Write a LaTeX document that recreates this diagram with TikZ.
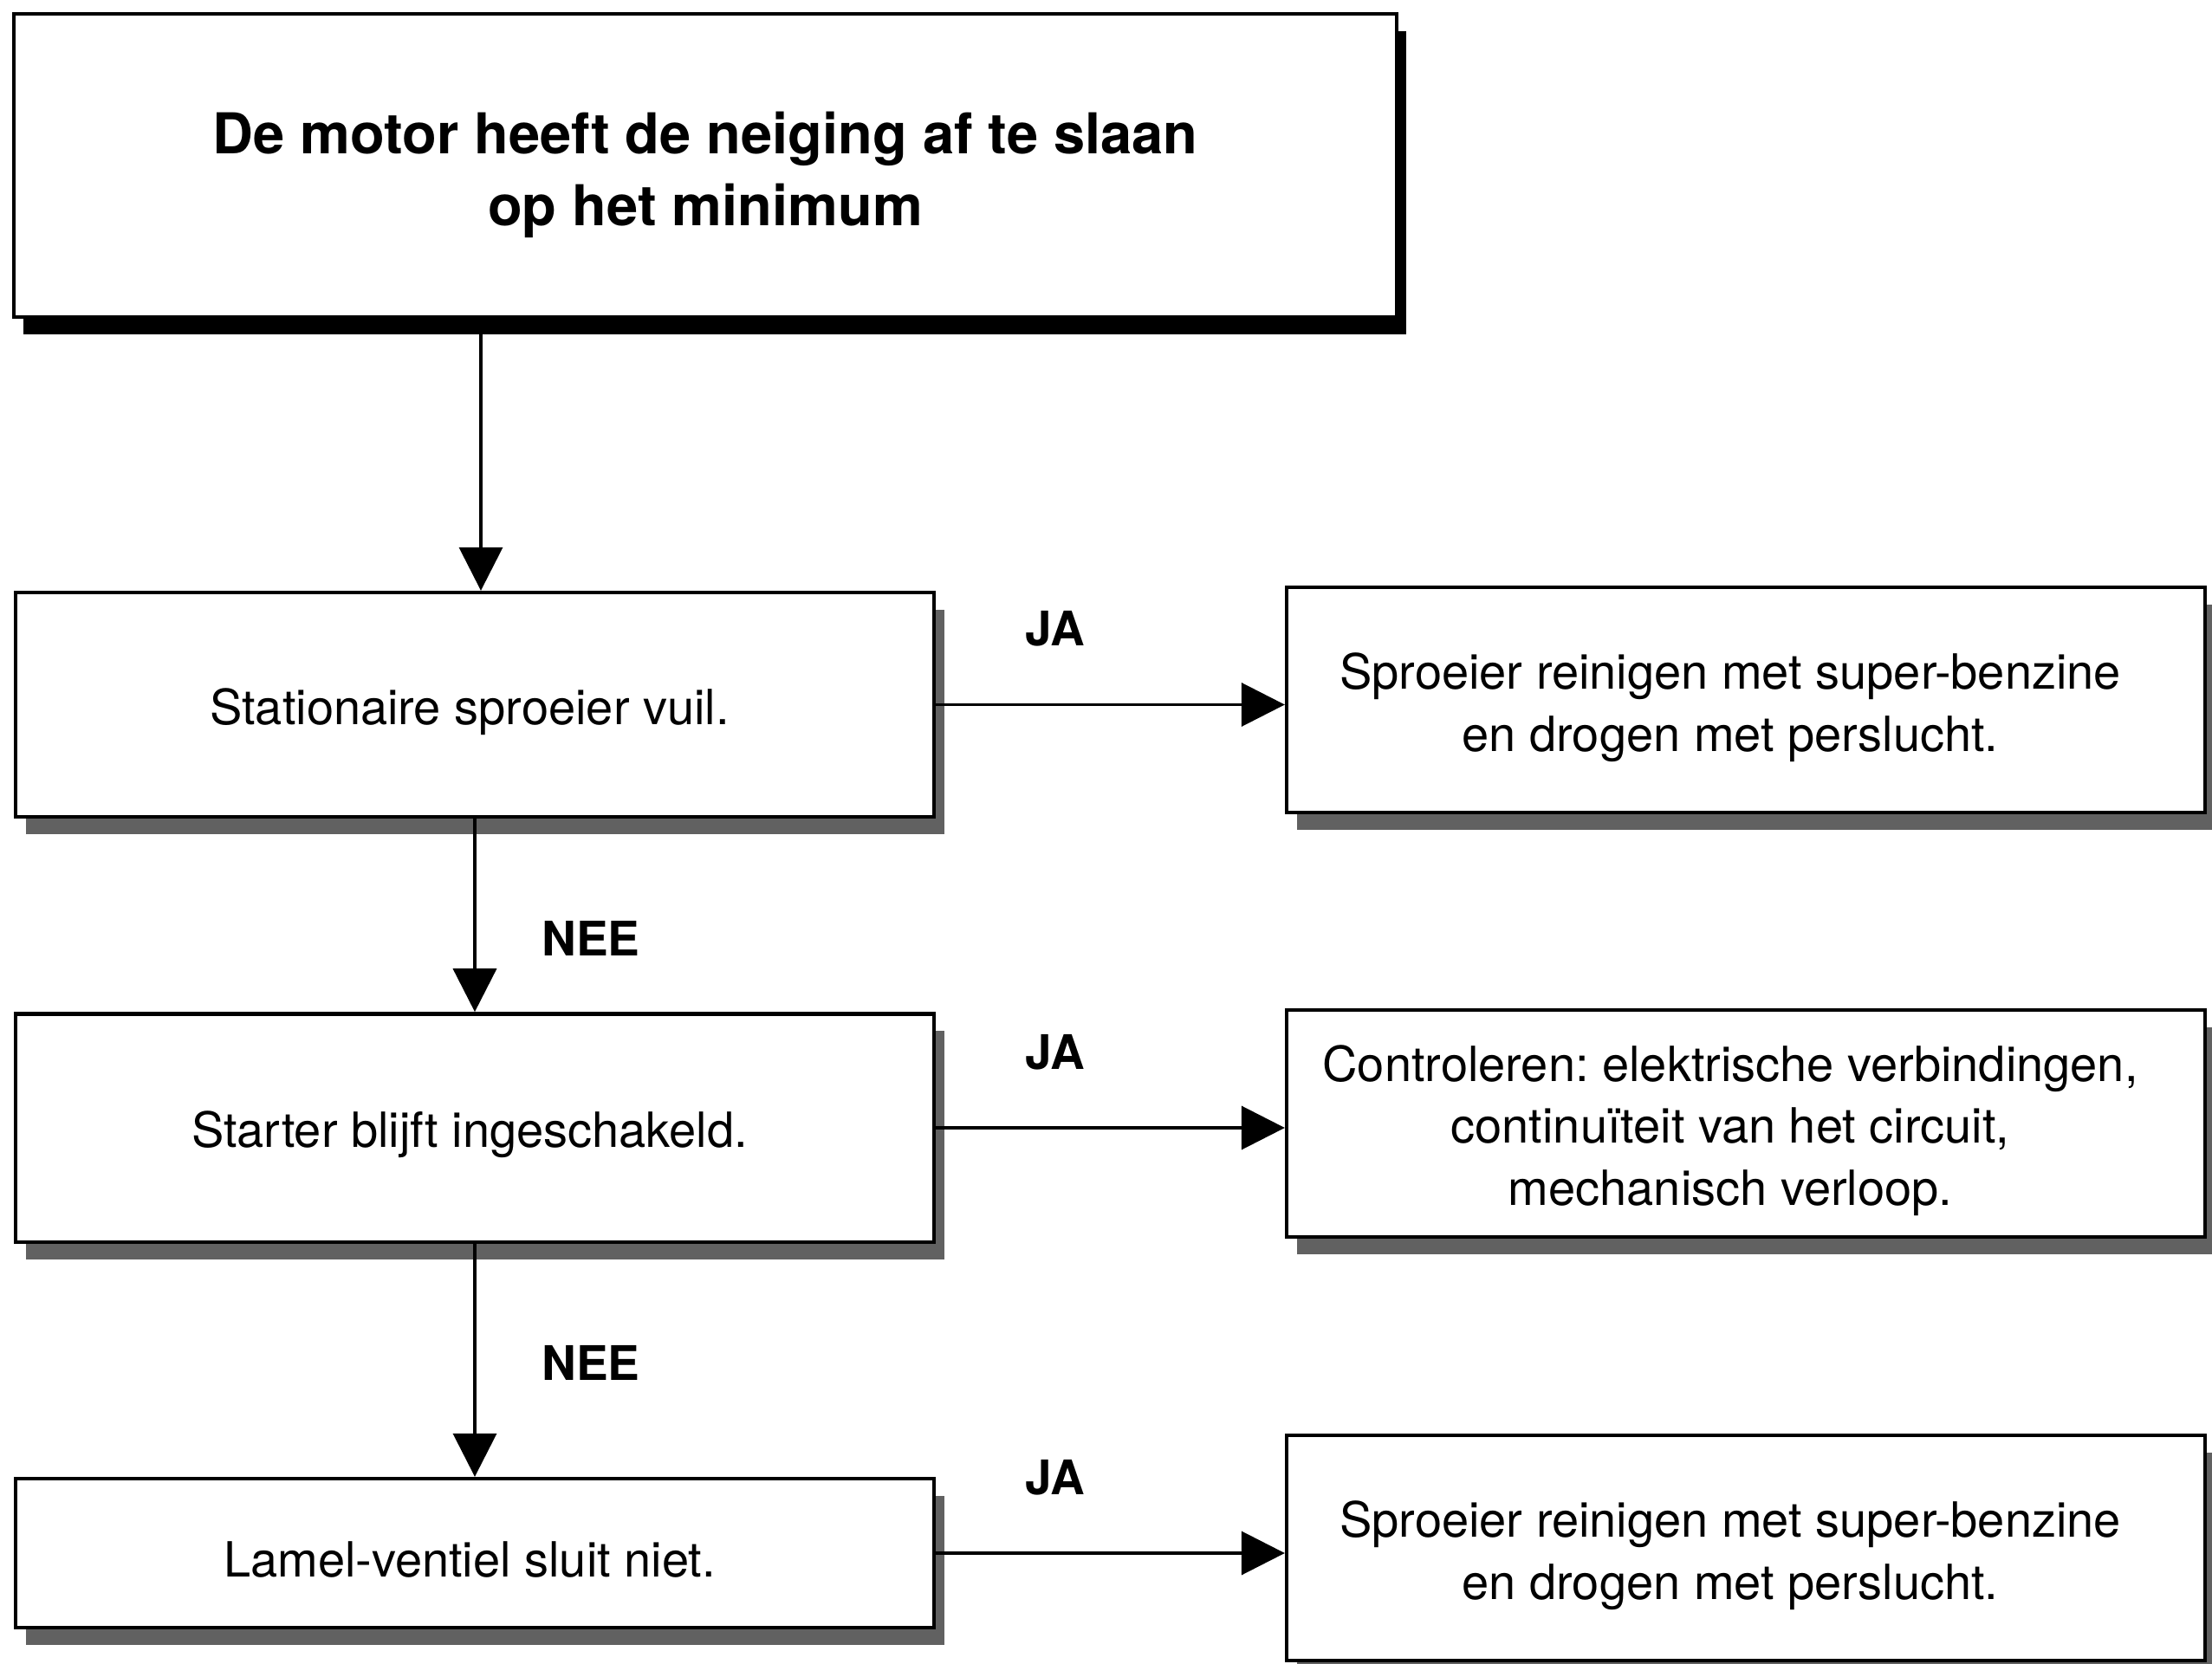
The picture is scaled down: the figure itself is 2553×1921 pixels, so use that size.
\documentclass[tikz,border=0pt]{standalone}
\usepackage{fontspec}
\setmainfont{TeX Gyre Heros}
\usetikzlibrary{arrows.meta,shadows}
\frenchspacing
\begin{document}
\begin{tikzpicture}[x=0.3pt,y=-0.3pt,
  box/.style={draw=black, line width=1.3pt, fill=white, inner sep=0pt},
  txt/.style={align=center, inner sep=0pt, font=\fontsize{16.8}{21.5}\selectfont},
  greyshadow/.style={drop shadow={shadow xshift=3.6pt, shadow yshift=-6pt,
    fill=black!62, opacity=1}},
  blackshadow/.style={drop shadow={shadow xshift=3.2pt, shadow yshift=-6pt,
    fill=black, opacity=1}},
  flow/.style={line width=1.1pt, -{Triangle[length=15pt,width=15pt]}},
  answer/.style={font=\bfseries\fontsize{16.5}{20}\selectfont, inner sep=0pt}
]
\useasboundingbox (0,0) rectangle (2553,1921);
\clip (0,0) rectangle (2553,1921);

% problem statement
\node[box, blackshadow, minimum width=478.8pt, minimum height=105pt] (top) at (814,191) {};
\node[txt, font=\bfseries\fontsize{19.5}{25}\selectfont] (topt) at ([shift={(0,11)}]top.center)
  {De motor heeft de neiging af te slaan\\op het minimum};

% checks on the left
\node[box, greyshadow, minimum width=318pt, minimum height=77.7pt] (c1) at (548,813.5) {};
\node[box, greyshadow, minimum width=318pt, minimum height=79pt] (c2) at (548,1302) {};
\node[box, greyshadow, minimum width=318pt, minimum height=51.6pt] (c3) at (548,1793) {};
\node[txt] (c1t) at ([shift={(-6,8)}]c1.center) {Stationaire sproeier vuil.};
\node[txt] (c2t) at ([shift={(-6,8)}]c2.center) {Starter blijft ingeschakeld.};
\node[txt] (c3t) at ([shift={(-6,8)}]c3.center) {Lamel-ventiel sluit niet.};

% remedies on the right
\node[box, greyshadow, minimum width=318pt, minimum height=78pt] (r1) at (2015,808) {};
\node[box, greyshadow, minimum width=318pt, minimum height=78.6pt] (r2) at (2015,1297) {};
\node[box, greyshadow, minimum width=318pt, minimum height=78pt] (r3) at (2015,1787) {};
\node[txt] (r1t) at ([shift={(-18,9)}]r1.center)
  {Sproeier reinigen met super-benzine\\en drogen met perslucht.};
\node[txt] (r2t) at ([shift={(-18,8)}]r2.center)
  {Controleren: elektrische verbindingen,\\continuïteit van het circuit,\\mechanisch verloop.};
\node[txt] (r3t) at ([shift={(-18,9)}]r3.center)
  {Sproeier reinigen met super-benzine\\en drogen met perslucht.};

% connectors
\coordinate (drop) at (555,0);
\draw[flow] (top.south -| drop) -- (c1.north -| drop);
\draw[flow] (c1.south) -- (c2.north);
\draw[flow] (c2.south) -- (c3.north);
\draw[flow] (c1.east) -- (c1.east -| r1.west);
\draw[flow] (c2.east) -- (c2.east -| r2.west);
\draw[flow] (c3.east) -- (c3.east -| r3.west);

% answers
\node[answer] (ja1) at (1218,726) {JA};
\node[answer] (ja2) at (1218,1215) {JA};
\node[answer] (ja3) at (1218,1706) {JA};
\node[answer] (nee1) at (682,1083) {NEE};
\node[answer] (nee2) at (682,1573) {NEE};
\end{tikzpicture}
\end{document}
